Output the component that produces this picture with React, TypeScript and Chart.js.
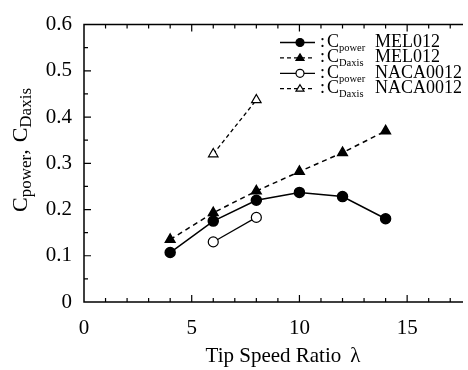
import { useEffect, useRef } from 'react';
import { Chart, registerables } from 'chart.js';

Chart.register(...registerables);

const tipSpeedMEL = [4, 6, 8, 10, 12, 14];
const cpowerMEL = [0.107, 0.175, 0.22, 0.237, 0.228, 0.18];
const cdaxisMEL = [0.135, 0.193, 0.24, 0.282, 0.323, 0.37];
const tipSpeedNACA = [6, 8];
const cpowerNACA = [0.13, 0.183];
const cdaxisNACA = [0.32, 0.437];
const xTickValues = [0, 5, 10, 15];
const yTickValues = [0, 0.1, 0.2, 0.3, 0.4, 0.5, 0.6];
const legendLabels = [
  { sub: 'power', name: 'MEL012' },
  { sub: 'Daxis', name: 'MEL012' },
  { sub: 'power', name: 'NACA0012' },
  { sub: 'Daxis', name: 'NACA0012' },
];

const SERIF = "'Liberation Serif', 'Times New Roman', serif";
Chart.defaults.font.family = SERIF;

type Part = { t: string; sub?: boolean; gap?: number };

function drawRich(ctx: CanvasRenderingContext2D, parts: Part[], x: number, y: number, big: number, small: number, subDrop: number) {
  let cx = x;
  for (const p of parts) {
    if (p.gap) { cx += p.gap; continue; }
    ctx.font = `${p.sub ? small : big}px ${SERIF}`;
    ctx.fillText(p.t, cx, p.sub ? y + subDrop : y);
    cx += ctx.measureText(p.t).width;
  }
  return cx;
}

function richWidth(ctx: CanvasRenderingContext2D, parts: Part[], big: number, small: number) {
  let w = 0;
  for (const p of parts) {
    if (p.gap) { w += p.gap; continue; }
    ctx.font = `${p.sub ? small : big}px ${SERIF}`;
    w += ctx.measureText(p.t).width;
  }
  return w;
}

function drawMarker(ctx: CanvasRenderingContext2D, kind: string, filled: boolean, x: number, y: number, r: number) {
  ctx.beginPath();
  if (kind === 'circle') {
    ctx.arc(x, y, r, 0, Math.PI * 2);
  } else {
    const h = r * 1.6;
    ctx.moveTo(x, y - h * 0.62);
    ctx.lineTo(x + r, y + h * 0.38);
    ctx.lineTo(x - r, y + h * 0.38);
    ctx.closePath();
  }
  ctx.fillStyle = filled ? '#000' : '#fff';
  ctx.fill();
  ctx.lineWidth = 1.2;
  ctx.strokeStyle = '#000';
  ctx.setLineDash([]);
  ctx.stroke();
}

const framePlugin = {
  id: 'frame',
  afterDraw(chart: any) {
    const ctx = chart.ctx as CanvasRenderingContext2D;
    const { left, right, top, bottom } = chart.chartArea;
    const xs = chart.scales.x;
    const ys = chart.scales.y;
    ctx.save();
    ctx.strokeStyle = '#000';
    ctx.lineWidth = 1.5;
    ctx.setLineDash([]);
    ctx.beginPath();
    ctx.moveTo(right + 2, top);
    ctx.lineTo(left, top);
    ctx.lineTo(left, bottom);
    ctx.lineTo(right + 2, bottom);
    ctx.stroke();
    ctx.lineWidth = 1.2;
    ctx.beginPath();
    for (let v = 1; v <= 17; v++) {
      const px = xs.getPixelForValue(v);
      const len = v % 5 === 0 ? 7 : 4;
      ctx.moveTo(px, bottom);
      ctx.lineTo(px, bottom - len);
      ctx.moveTo(px, top);
      ctx.lineTo(px, top + len);
    }
    for (let i = 1; i <= 11; i++) {
      const v = i * 0.05;
      const py = ys.getPixelForValue(v);
      const len = i % 2 === 0 ? 7 : 4;
      ctx.moveTo(left, py);
      ctx.lineTo(left + len, py);
    }
    ctx.stroke();

    // axis titles
    ctx.fillStyle = '#000';
    ctx.textBaseline = 'alphabetic';
    ctx.textAlign = 'left';
    const xParts: Part[] = [{ t: 'Tip Speed Ratio' }, { t: '', gap: 9 }, { t: 'λ' }];
    const w = richWidth(ctx, xParts, 21, 21);
    drawRich(ctx, xParts, 283 - w / 2, 362, 21, 21, 0);

    const yParts: Part[] = [
      { t: 'C' }, { t: 'power', sub: true }, { t: ',' }, { t: '', gap: 7 }, { t: 'C' }, { t: 'Daxis', sub: true },
    ];
    const yw = richWidth(ctx, yParts, 22, 17);
    ctx.save();
    ctx.translate(27, 150);
    ctx.rotate(-Math.PI / 2);
    drawRich(ctx, yParts, -yw / 2, 0, 22, 17, 4);
    ctx.restore();

    // legend
    const rows = [
      { kind: 'circle', filled: true, dash: false },
      { kind: 'triangle', filled: true, dash: true },
      { kind: 'circle', filled: false, dash: false },
      { kind: 'triangle', filled: false, dash: true },
    ];
    rows.forEach((r, i) => {
      const base = 47 + i * 15.4;
      const ly = base - 4.5;
      ctx.beginPath();
      ctx.lineWidth = 1.3;
      ctx.strokeStyle = '#000';
      ctx.setLineDash(r.dash ? [4, 3] : []);
      ctx.moveTo(280, ly);
      ctx.lineTo(315, ly);
      ctx.stroke();
      ctx.setLineDash([]);
      drawMarker(ctx, r.kind, r.filled, 300, ly, 4);
      ctx.fillStyle = '#000';
      const lab = legendLabels[i];
      drawRich(ctx, [{ t: ':' }, { t: '', gap: 2 }, { t: 'C' }, { t: lab.sub, sub: true }], 320, base, 18, 10.5, 4);
      ctx.font = `18px ${SERIF}`;
      ctx.fillText(lab.name, 375, base);
    });
    ctx.restore();
  },
};

export default function App() {
  const ref = useRef<HTMLCanvasElement | null>(null);
  useEffect(() => {
    document.body.style.margin = '0';
    const toXY = (xs: number[], ys: number[]) => xs.map((x, i) => ({ x, y: ys[i] }));
    const chart = new Chart(ref.current as HTMLCanvasElement, {
      type: 'line',
      data: {
        datasets: [
          {
            label: 'Cpower MEL012',
            data: toXY(tipSpeedMEL, cpowerMEL),
            borderColor: '#000',
            borderWidth: 1.5,
            pointStyle: 'circle',
            pointRadius: 5,
            pointBackgroundColor: '#000',
            pointBorderColor: '#000',
          },
          {
            label: 'CDaxis MEL012',
            data: toXY(tipSpeedMEL, cdaxisMEL),
            borderColor: '#000',
            borderWidth: 1.5,
            borderDash: [5, 4],
            pointStyle: 'triangle',
            pointRadius: 5.5,
            pointBackgroundColor: '#000',
            pointBorderColor: '#000',
          },
          {
            label: 'Cpower NACA0012',
            data: toXY(tipSpeedNACA, cpowerNACA),
            borderColor: '#000',
            borderWidth: 1.2,
            pointStyle: 'circle',
            pointRadius: 5,
            pointBorderWidth: 1.2,
            pointBackgroundColor: '#fff',
            pointBorderColor: '#000',
          },
          {
            label: 'CDaxis NACA0012',
            data: toXY(tipSpeedNACA, cdaxisNACA),
            borderColor: '#000',
            borderWidth: 1.3,
            borderDash: [4, 3],
            pointStyle: 'triangle',
            pointRadius: 5.5,
            pointBorderWidth: 1.2,
            pointBackgroundColor: '#fff',
            pointBorderColor: '#000',
          },
        ],
      },
      options: {
        animation: false,
        responsive: false,
        maintainAspectRatio: false,
        layout: { padding: { top: 17, right: 0, left: 0, bottom: 0 } },
        plugins: { legend: { display: false }, tooltip: { enabled: false } },
        scales: {
          x: {
            type: 'linear',
            min: 0,
            max: 17.5,
            grid: { display: false, drawTicks: false },
            border: { display: false },
            afterBuildTicks: (s: any) => { s.ticks = xTickValues.map((v) => ({ value: v })); },
            afterFit: (s: any) => { s.height = 68; },
            ticks: {
              color: '#000',
              padding: 14,
              font: { family: SERIF, size: 21 },
              maxRotation: 0,
              autoSkip: false,
            },
          },
          y: {
            type: 'linear',
            min: 0,
            max: 0.6,
            grid: { display: false, drawTicks: false },
            border: { display: false },
            afterBuildTicks: (s: any) => { s.ticks = yTickValues.map((v) => ({ value: v })); },
            afterFit: (s: any) => { s.width = 84; },
            ticks: {
              color: '#000',
              padding: 12,
              font: { family: SERIF, size: 21 },
              autoSkip: false,
            },
          },
        },
      },
      plugins: [framePlugin],
    });
    return () => chart.destroy();
  }, []);
  return (
    <div style={{ position: 'absolute', left: 0, top: 0, width: 468, height: 370, background: '#fff' }}>
      <canvas ref={ref} width={468} height={370} style={{ width: 468, height: 370 }} />
    </div>
  );
}
